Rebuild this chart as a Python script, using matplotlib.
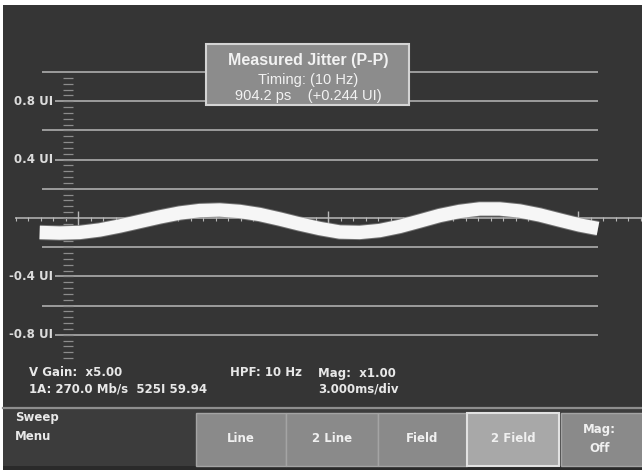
import numpy as np
import matplotlib.pyplot as plt
import matplotlib.transforms as mtransforms
from matplotlib.patches import Rectangle

# jitter trace: time in ms, jitter in UI
time_ms = [-0.46, -0.22, 0.02, 0.26, 0.50, 0.74, 0.98, 1.22, 1.46, 1.70,
           1.94, 2.18, 2.42, 2.66, 2.90, 3.14, 3.38, 3.62, 3.86, 4.10,
           4.34, 4.58, 4.82, 5.06, 5.30, 5.54, 5.78, 6.02, 6.24]
jitter_ui = [-0.099, -0.103, -0.099, -0.082, -0.055, -0.024, 0.007, 0.034, 0.051, 0.055,
             0.045, 0.024, -0.007, -0.041, -0.072, -0.096, -0.099, -0.086, -0.058, -0.021,
             0.017, 0.045, 0.062, 0.062, 0.048, 0.021, -0.014, -0.048, -0.072]

grid_ui = [1.0, 0.8, 0.6, 0.4, 0.2, -0.2, -0.4, -0.6, -0.8]
label_ui = [0.8, 0.4, -0.4, -0.8]
label_text = ['0.8 UI', '0.4 UI', '-0.4 UI', '-0.8 UI']

box_lines = ['Measured Jitter (P-P)', 'Timing: (10 Hz)', '904.2 ps    (+0.244 UI)']
status_left = ['V Gain:  x5.00', '1A: 270.0 Mb/s  525I 59.94']
status_mid = 'HPF: 10 Hz'
status_right = ['Mag:  x1.00', '3.000ms/div']
buttons = ['Line', '2 Line', 'Field', '2 Field', 'Mag:\nOff']
active_button = '2 Field'

MS_PER_DIV = 3.0
W, H = 642, 470
BG = '#353535'
GRID = '#b8b8b8'
FONT = 'Liberation Sans'
BOLD = 'DejaVu Sans'

fig = plt.figure(figsize=(W / 100, H / 100), dpi=100, facecolor='white')
ax = fig.add_axes([0, 0, 1, 1])
ax.set_facecolor('white')
# screen mapping: 250 px per 3 ms division, 146 px per UI, zero at px (78, 218)
ax.set_xlim((0 - 78) * 0.012, (W - 78) * 0.012)
ax.set_ylim((218 - H) / 146, 218 / 146)
ax.axis('off')

# pixel transform for the instrument chrome (origin top-left)
pix = mtransforms.Affine2D().scale(1 / W, -1 / H).translate(0, 1) + fig.transFigure

ax.add_patch(Rectangle((3, 5), W, H, transform=pix, fc=BG, ec='none', zorder=0))

# graticule
x_left, x_lab, x_right = ax.get_xlim()[0] + 42 * 0.012, ax.get_xlim()[0] + 55 * 0.012, ax.get_xlim()[0] + 598 * 0.012
for g in grid_ui:
    start = x_lab if g in label_ui else x_left
    ax.hlines(g, start, x_right, color=GRID, lw=1.1, zorder=2)
for g, t in zip(label_ui, label_text):
    ax.text(x_lab - 0.02, g, t, ha='right', va='center', color='#dcdcdc',
            fontsize=8.5, fontweight='bold', family=BOLD, zorder=3)

# zero line with time ticks
x0 = ax.get_xlim()[0] + 15 * 0.012
ax.hlines(0, x0, ax.get_xlim()[1], color=GRID, lw=1.1, zorder=2)
minor = np.arange(-0.75, ax.get_xlim()[1], MS_PER_DIV / 20)
ax.vlines(minor, -0.022, 0.008, color=GRID, lw=0.8, zorder=2)
ax.vlines(np.arange(0, ax.get_xlim()[1], MS_PER_DIV), -0.045, 0.045, color=GRID, lw=1.0, zorder=2)

# vertical centre scale
scale = np.arange(-0.96, 0.99, 0.04)
ax.hlines(scale, -0.18, -0.06, color='#8c8c8c', lw=0.9, zorder=2)

# jitter trace
ax.plot(time_ms, jitter_ui, color='#9a9a9a', lw=11, alpha=0.6,
        solid_capstyle='butt', solid_joinstyle='round', zorder=4)
ax.plot(time_ms, jitter_ui, color='#f6f6f6', lw=9.6,
        solid_capstyle='butt', solid_joinstyle='round', zorder=5)

# measurement readout box
ax.add_patch(Rectangle((206, 44), 203, 61, transform=pix, fc='#8c8c8c', ec='#d4d4d4',
                       lw=1.5, zorder=6))
for line, yy, wt, fs in zip(box_lines, [60, 80, 96], ['bold', 'normal', 'normal'], [11.5, 10.5, 10.5]):
    ax.text(308, yy, line, transform=pix, ha='center', va='center', color='#f2f2f2',
            fontsize=fs, fontweight=wt, family=FONT, zorder=7)

# status lines
txt = dict(transform=pix, va='center', color='#e8e8e8', fontsize=8.5, fontweight='bold', family=BOLD)
ax.text(29, 373, status_left[0], **txt)
ax.text(29, 389, status_left[1], **txt)
ax.text(230, 373, status_mid, **txt)
ax.text(318, 373, status_right[0], **txt)
ax.text(318, 389, status_right[1], **txt)

# menu bar
ax.add_patch(Rectangle((3, 409), W, 61, transform=pix, fc='#3c3c3c', ec='none', zorder=1))
ax.plot([3, W], [408, 408], transform=pix, color='#8e8e8e', lw=1.6, zorder=2)
ax.add_patch(Rectangle((3, 466), W, 4, transform=pix, fc='#2a2a2a', ec='none', zorder=2))
ax.text(15, 417, 'Sweep', **txt)
ax.text(15, 437, 'Menu', **txt)

edges = [196, 286, 378, 467, 559, W + 2]
for i, b in enumerate(buttons):
    active = b == active_button
    x_a = edges[i] + (2 if i == 4 else 0)
    ax.add_patch(Rectangle((x_a, 413), edges[i + 1] - x_a, 53, transform=pix,
                           fc='#a8a8a8' if active else '#8a8a8a',
                           ec='#e2e2e2' if active else '#a4a4a4',
                           lw=1.5 if active else 1.0, zorder=3))
    ax.text((x_a + edges[i + 1]) / 2 - (3 if i == 4 else 0), 439, b, transform=pix,
            ha='center', va='center', color='#f0f0f0', fontsize=8.5, fontweight='bold',
            family=BOLD, linespacing=1.6, zorder=4)

fig.savefig('out.png', dpi=100, facecolor='white')
